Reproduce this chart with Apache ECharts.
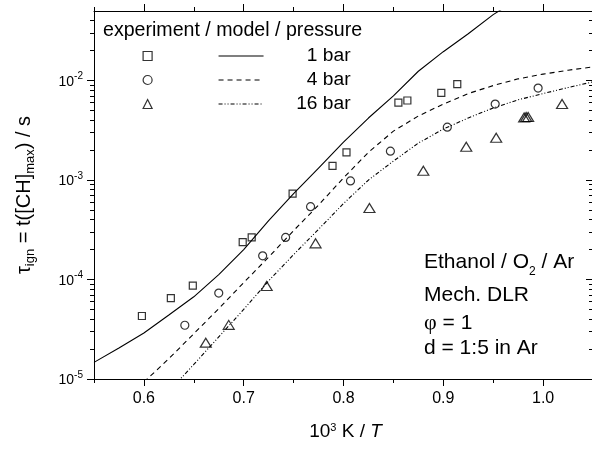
<!DOCTYPE html>
<html><head><meta charset="utf-8">
<script src="https://cdn.jsdelivr.net/npm/echarts@6/dist/echarts.min.js"></script>
<style>
html,body{margin:0;padding:0;background:#fff}
#wrap{position:relative;width:592px;height:449px}
#c,#f{position:absolute;left:0;top:0;width:592px;height:449px}
#f{pointer-events:none}
</style>
</head><body><div id="wrap"><div id="c"></div><div id="f"></div></div>
<script>
// ---- data ----
const exp1T   = [0.598, 0.627, 0.649, 0.699, 0.708, 0.749, 0.789, 0.803, 0.855, 0.864, 0.898, 0.914];
const exp1Tau = [4.3e-5, 6.5e-5, 8.7e-5, 2.38e-4, 2.65e-4, 7.3e-4, 1.39e-3, 1.9e-3, 6.0e-3, 6.3e-3, 7.5e-3, 9.2e-3];
const exp4T   = [0.641, 0.675, 0.719, 0.742, 0.767, 0.807, 0.847, 0.904, 0.952, 0.995];
const exp4Tau = [3.47e-5, 7.3e-5, 1.73e-4, 2.65e-4, 5.4e-4, 9.8e-4, 1.95e-3, 3.4e-3, 5.8e-3, 8.4e-3];
const exp16T   = [0.662, 0.685, 0.723, 0.772, 0.826, 0.880, 0.923, 0.953, 0.981, 0.983, 0.985, 1.019];
const exp16Tau = [2.32e-5, 3.5e-5, 8.6e-5, 2.31e-4, 5.24e-4, 1.24e-3, 2.16e-3, 2.66e-3, 4.25e-3, 4.3e-3, 4.3e-3, 5.8e-3];

const modelT  = [0.55, 0.575, 0.6, 0.625, 0.65, 0.675, 0.7, 0.725, 0.75, 0.775, 0.8, 0.825, 0.85, 0.875, 0.9, 0.925, 0.95, 0.975, 1.0, 1.025, 1.05];
const model1  = [1.47e-5, 2.05e-5, 2.9e-5, 4.4e-5, 6.7e-5, 1.12e-4, 2.0e-4, 3.9e-4, 7.3e-4, 1.32e-3, 2.4e-3, 4.2e-3, 7.0e-3, 1.24e-2, 1.95e-2, 2.95e-2, 4.6e-2, 6.6e-2, null, null, null];
const model4  = [null, null, 9.3e-6, 1.6e-5, 2.85e-5, 5.1e-5, 9.3e-5, 1.68e-4, 3.1e-4, 5.6e-4, 1.05e-3, 1.9e-3, 3.1e-3, 4.4e-3, 5.8e-3, 7.4e-3, 8.9e-3, 1.04e-2, 1.16e-2, 1.27e-2, 1.37e-2];
const model16 = [null, null, null, 7.5e-6, 1.4e-5, 2.65e-5, 5.0e-5, 9.7e-5, 1.78e-4, 3.2e-4, 5.8e-4, 1.0e-3, 1.55e-3, 2.35e-3, 3.25e-3, 4.2e-3, 5.3e-3, 6.4e-3, 7.4e-3, 8.5e-3, 9.7e-3];

const pressureNames = ['1 bar', '4 bar', '16 bar'];
const expNames = ['exp 1 bar', 'exp 4 bar', 'exp 16 bar'];
const xMajorTicks = [0.6, 0.7, 0.8, 0.9, 1.0];
const xMinorTicks = [0.55, 0.65, 0.75, 0.85, 0.95];
const yDecades = [1e-5, 1e-4, 1e-3, 1e-2];
const yMinorMultipliers = [2, 3, 4, 5, 6, 7, 8, 9];
const legendHeader = 'experiment / model / pressure';
const infoLines = ['Ethanol / O', '2', ' / Ar', 'Mech. DLR', 'φ', ' = 1', 'd = 1:5 in Ar'];

// ---- build ----
const FONT = '"Liberation Sans", Arial, sans-serif';
const X_MIN = 0.55, X_MAX = 1.05, Y_MIN = 1e-5, Y_MAX = 0.05;
const LY_MIN = Math.log10(Y_MIN), LY_MAX = Math.log10(Y_MAX);
const zip = (xs, ys) => xs.map((x, i) => [x, ys[i]]);
const yMajorLog = yDecades.map(d => Math.log10(d));
const yMinorLog = [];
yDecades.forEach(d => yMinorMultipliers.forEach(m => { const v = d * m; if (v < Y_MAX) yMinorLog.push(Math.log10(v)); }));

const black = '#000';
const txt = (extra) => Object.assign({ fontFamily: FONT, color: black, fontWeight: 'normal' }, extra);
const GRID = () => ({ left: 94, top: 11, width: 499, height: 368, outerBoundsMode: 'none', containLabel: false });

// ---- main chart: data, labels, legend, notes ----
const chart = echarts.init(document.getElementById('c'));
chart.setOption({
  animation: false,
  grid: GRID(),
  title: [
    { text: legendHeader, left: 103, top: 18.5, padding: 0, textStyle: txt({ fontSize: 19.6, lineHeight: 24 }) },
    { text: '{m|' + infoLines[0] + '}{s|' + infoLines[1] + '}{m|' + infoLines[2] + '}', left: 424, top: 246, padding: 0,
      textStyle: txt({ fontSize: 21, rich: { m: txt({ fontSize: 21, lineHeight: 32 }), s: txt({ fontSize: 12, lineHeight: 12, verticalAlign: 'bottom' }) } }) },
    { text: infoLines[3], left: 424, top: 283, padding: 0, textStyle: txt({ fontSize: 21, lineHeight: 24 }) },
    { text: '{g|' + infoLines[4] + '}{m|' + infoLines[5] + '}', left: 424, top: 311.4, padding: 0,
      textStyle: txt({ fontSize: 21, rich: { m: txt({ fontSize: 21, lineHeight: 24 }), g: txt({ fontSize: 22, lineHeight: 24, fontFamily: '"Liberation Serif", serif' }) } }) },
    { text: infoLines[6], left: 424, top: 336.7, padding: 0, textStyle: txt({ fontSize: 21, lineHeight: 24 }) }
  ],
  legend: [
    { data: expNames, orient: 'vertical', left: 142.5, top: 44, padding: 0, itemGap: 0, itemWidth: 9, itemHeight: 9,
      selectedMode: false, formatter: () => ' ', itemStyle: { borderWidth: 1.2, borderColor: black },
      textStyle: txt({ fontSize: 19, lineHeight: 24 }) },
    { data: pressureNames, orient: 'vertical', left: 218, top: 44, padding: 0, itemGap: 0, itemWidth: 45, itemHeight: 10,
      selectedMode: false, itemStyle: { opacity: 0 }, lineStyle: { width: 1.1 }, formatter: n => '{r|' + n + '}',
      textStyle: txt({ fontSize: 19.2, lineHeight: 24, rich: { r: txt({ fontSize: 19.2, lineHeight: 24, width: 82, align: 'right' }) } }) }
  ],
  xAxis: [{ type: 'value', position: 'bottom', min: X_MIN, max: X_MAX,
    axisLine: { show: false }, splitLine: { show: false }, axisTick: { show: false },
    axisLabel: { show: true, customValues: xMajorTicks, margin: 12, formatter: v => v.toFixed(1), fontFamily: FONT, fontSize: 16, color: black },
    name: '{b|10}{sup|3}{b| K / }{i|T}', nameLocation: 'middle', nameGap: 43,
    nameTextStyle: txt({ fontSize: 19, padding: [0, 0, 0, 4], rich: {
      b: txt({ fontSize: 19, lineHeight: 20 }),
      sup: txt({ fontSize: 11, lineHeight: 11, verticalAlign: 'top' }),
      i: txt({ fontSize: 19, lineHeight: 20, fontStyle: 'italic' }) } }) }],
  yAxis: [{ type: 'log', logBase: 10, position: 'left', min: Y_MIN, max: Y_MAX,
    axisLine: { show: false }, splitLine: { show: false }, minorTick: { show: false }, axisTick: { show: false },
    axisLabel: { show: true, margin: 11, showMaxLabel: false,
      formatter: v => '{b|10}{s|' + Math.round(Math.log10(v)) + '}',
      rich: { b: txt({ fontSize: 14, lineHeight: 18, padding: [3, 0, 0, 0] }), s: txt({ fontSize: 10, lineHeight: 10, verticalAlign: 'top' }) } },
    name: '{g|τ}{sub|ign}{g| = t([CH]}{sub|max}{g|) / s}', nameLocation: 'middle', nameRotate: 90, nameGap: 57,
    nameTextStyle: txt({ fontSize: 20, rich: {
      g: txt({ fontSize: 20, lineHeight: 26 }),
      sub: txt({ fontSize: 13, lineHeight: 13, verticalAlign: 'bottom' }) } }) }],
  series: [
    { type: 'line', name: pressureNames[0], data: zip(modelT, model1), symbol: 'none',
      itemStyle: { color: black }, lineStyle: { color: black, width: 1.1, type: 'solid' }, z: 2 },
    { type: 'line', name: pressureNames[1], data: zip(modelT, model4), symbol: 'none',
      itemStyle: { color: black }, lineStyle: { color: black, width: 1.1, type: [5, 4] }, z: 2 },
    { type: 'line', name: pressureNames[2], data: zip(modelT, model16), symbol: 'none',
      itemStyle: { color: black }, lineStyle: { color: black, width: 1.1, type: [4, 2, 1, 2, 1, 2] }, z: 2 },
    { type: 'scatter', name: expNames[0], data: zip(exp1T, exp1Tau), symbol: 'rect', symbolSize: 7,
      itemStyle: { color: 'rgba(0,0,0,0)', borderColor: black, borderWidth: 1.2 }, z: 3 },
    { type: 'scatter', name: expNames[1], data: zip(exp4T, exp4Tau), symbol: 'circle', symbolSize: 8,
      itemStyle: { color: 'rgba(0,0,0,0)', borderColor: black, borderWidth: 1.2 }, z: 3 },
    { type: 'scatter', name: expNames[2], data: zip(exp16T, exp16Tau), symbol: 'triangle', symbolSize: [11, 9],
      itemStyle: { color: 'rgba(0,0,0,0)', borderColor: black, borderWidth: 1.2 }, z: 3 }
  ]
});

// ---- overlay chart: frame and ticks only (same grid, same axis extents; y in log10 space) ----
const frame = echarts.init(document.getElementById('f'));
const lineOn = () => ({ show: true, onZero: false, lineStyle: { color: black, width: 1 } });
const lineOff = () => ({ show: false, onZero: false });
const ticks = (vals, len, inside) => ({ show: true, customValues: vals, length: len, inside: !!inside, lineStyle: { color: black, width: 1 } });
const xAx = (pos, line, vals, len) => ({ type: 'value', position: pos, min: X_MIN, max: X_MAX, axisLine: line,
  splitLine: { show: false }, axisTick: ticks(vals, len, false), axisLabel: { show: false } });
const yAx = (pos, line, vals, len, inside) => ({ type: 'value', position: pos, min: LY_MIN, max: LY_MAX, axisLine: line,
  splitLine: { show: false }, axisTick: ticks(vals, len, inside), axisLabel: { show: false } });
frame.setOption({
  animation: false,
  backgroundColor: 'transparent',
  grid: GRID(),
  xAxis: [
    xAx('bottom', lineOn(), xMajorTicks, 7),
    xAx('bottom', lineOff(), xMinorTicks, 4),
    xAx('top', lineOn(), xMajorTicks, 7),
    xAx('top', lineOff(), xMinorTicks, 4)
  ],
  yAxis: [
    yAx('left', lineOn(), yMajorLog, 7, false),
    yAx('left', lineOff(), yMinorLog, 4, false),
    yAx('right', lineOn(), yMajorLog, 7, true),
    yAx('right', lineOff(), yMinorLog, 4, true)
  ],
  series: [{ type: 'line', data: [], silent: true }]
});
</script>
</body></html>
